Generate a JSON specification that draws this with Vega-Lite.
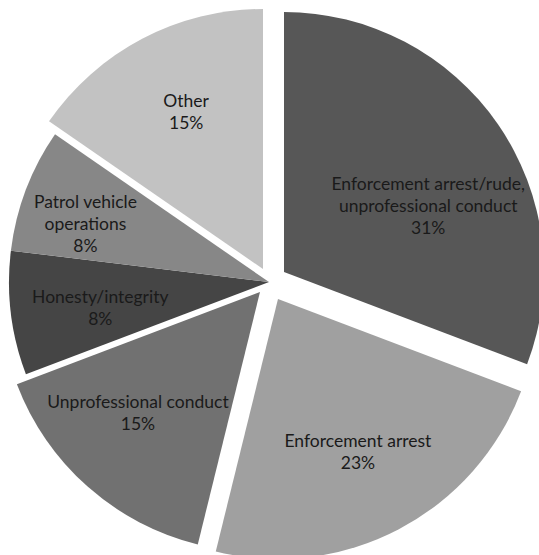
{
  "$schema": "https://vega.github.io/schema/vega-lite/v6.json",
  "width": 538,
  "height": 546,
  "autosize": "none",
  "padding": {"left": 0, "top": 9, "right": 1, "bottom": 0},
  "background": "white",
  "config": {"view": {"stroke": null}},
  "data": {
    "values": [
      {"order": 1, "category": "Enforcement arrest/rude, unprofessional conduct", "label": "Enforcement arrest/rude,\nunprofessional conduct", "count": 4},
      {"order": 2, "category": "Enforcement arrest", "label": "Enforcement arrest", "count": 3},
      {"order": 3, "category": "Unprofessional conduct", "label": "Unprofessional conduct", "count": 2},
      {"order": 4, "category": "Honesty/integrity", "label": "Honesty/integrity", "count": 1},
      {"order": 5, "category": "Patrol vehicle operations", "label": "Patrol vehicle\noperations", "count": 1},
      {"order": 6, "category": "Other", "label": "Other", "count": 2}
    ]
  },
  "transform": [
    {"stack": "count", "groupby": [], "sort": [{"field": "order", "order": "ascending"}], "offset": "normalize", "as": ["t0", "t1"]},
    {"calculate": "(datum.t0 + datum.t1) / 2", "as": "tm"},
    {"joinaggregate": [{"op": "sum", "field": "count", "as": "total"}]},
    {"calculate": "datum.label + '\\n' + format(datum.count / datum.total, '.0%')", "as": "txt"}
  ],
  "resolve": {"scale": {"theta": "shared", "color": "shared"}},
  "layer": [
    {
      "transform": [{"filter": "datum.order === 1"}],
      "layer": [
        {"mark": {"type": "arc", "outerRadius": 260, "xOffset": 15, "yOffset": -10},
         "encoding": {"theta": {"field": "t0", "type": "quantitative", "stack": null, "scale": {"domain": [0, 1]}}, "theta2": {"field": "t1"},
           "color": {"field": "category", "type": "nominal", "legend": null, "scale": {"domain": ["Enforcement arrest/rude, unprofessional conduct", "Enforcement arrest", "Unprofessional conduct", "Honesty/integrity", "Patrol vehicle operations", "Other"], "range": ["#575757", "#a0a0a0", "#717171", "#454545", "#878787", "#c2c2c2"]}}}},
        {"mark": {"type": "text", "radius": 157, "xOffset": 15, "yOffset": -10, "dx": 15, "dy": 2, "font": "Lato", "fontSize": 17.5, "lineHeight": 22, "lineBreak": "\n", "baseline": "middle", "align": "center", "color": "#1a1a1a"},
         "encoding": {"theta": {"field": "tm", "type": "quantitative", "stack": null}, "text": {"field": "txt"}}}
      ]
    },
    {
      "transform": [{"filter": "datum.order === 2"}],
      "layer": [
        {"mark": {"type": "arc", "outerRadius": 260, "xOffset": 9, "yOffset": 17},
         "encoding": {"theta": {"field": "t0", "type": "quantitative", "stack": null}, "theta2": {"field": "t1"}, "color": {"field": "category", "type": "nominal", "legend": null}}},
        {"mark": {"type": "text", "radius": 172, "xOffset": 9, "yOffset": 17, "dy": -9, "font": "Lato", "fontSize": 17.5, "lineHeight": 22, "lineBreak": "\n", "baseline": "middle", "align": "center", "color": "#1a1a1a"},
         "encoding": {"theta": {"field": "tm", "type": "quantitative", "stack": null}, "text": {"field": "txt"}}}
      ]
    },
    {
      "transform": [{"filter": "datum.order === 3"}],
      "layer": [
        {"mark": {"type": "arc", "outerRadius": 260, "xOffset": -9, "yOffset": 10},
         "encoding": {"theta": {"field": "t0", "type": "quantitative", "stack": null}, "theta2": {"field": "t1"}, "color": {"field": "category", "type": "nominal", "legend": null}}},
        {"mark": {"type": "text", "radius": 172, "xOffset": -9, "yOffset": 10, "dx": -8, "dy": -18, "font": "Lato", "fontSize": 17.5, "lineHeight": 22, "lineBreak": "\n", "baseline": "middle", "align": "center", "color": "#1a1a1a"},
         "encoding": {"theta": {"field": "tm", "type": "quantitative", "stack": null}, "text": {"field": "txt"}}}
      ]
    },
    {
      "transform": [{"filter": "datum.order === 4"}],
      "layer": [
        {"mark": {"type": "arc", "outerRadius": 260},
         "encoding": {"theta": {"field": "t0", "type": "quantitative", "stack": null}, "theta2": {"field": "t1"}, "color": {"field": "category", "type": "nominal", "legend": null}}},
        {"mark": {"type": "text", "radius": 170, "dy": -4, "font": "Lato", "fontSize": 17.5, "lineHeight": 22, "lineBreak": "\n", "baseline": "middle", "align": "center", "color": "#1a1a1a"},
         "encoding": {"theta": {"field": "tm", "type": "quantitative", "stack": null}, "text": {"field": "txt"}}}
      ]
    },
    {
      "transform": [{"filter": "datum.order === 5"}],
      "layer": [
        {"mark": {"type": "arc", "outerRadius": 260},
         "encoding": {"theta": {"field": "t0", "type": "quantitative", "stack": null}, "theta2": {"field": "t1"}, "color": {"field": "category", "type": "nominal", "legend": null}}},
        {"mark": {"type": "text", "radius": 191, "dx": -5, "dy": -11, "font": "Lato", "fontSize": 17.5, "lineHeight": 22, "lineBreak": "\n", "baseline": "middle", "align": "center", "color": "#1a1a1a"},
         "encoding": {"theta": {"field": "tm", "type": "quantitative", "stack": null}, "text": {"field": "txt"}}}
      ]
    },
    {
      "transform": [{"filter": "datum.order === 6"}],
      "layer": [
        {"mark": {"type": "arc", "outerRadius": 260, "xOffset": -6, "yOffset": -13},
         "encoding": {"theta": {"field": "t0", "type": "quantitative", "stack": null}, "theta2": {"field": "t1"}, "color": {"field": "category", "type": "nominal", "legend": null}}},
        {"mark": {"type": "text", "radius": 174, "xOffset": -6, "yOffset": -13, "dx": 4, "dy": -13, "font": "Lato", "fontSize": 17.5, "lineHeight": 22, "lineBreak": "\n", "baseline": "middle", "align": "center", "color": "#1a1a1a"},
         "encoding": {"theta": {"field": "tm", "type": "quantitative", "stack": null}, "text": {"field": "txt"}}}
      ]
    }
  ]
}
